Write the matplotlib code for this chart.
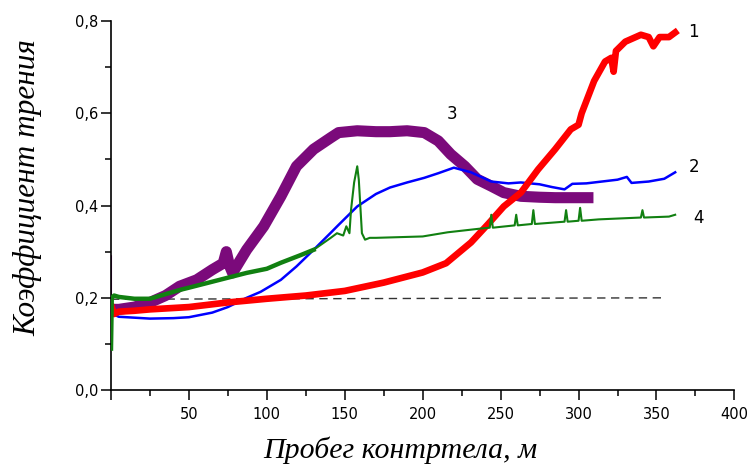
import matplotlib
matplotlib.use("Agg")
import matplotlib.pyplot as plt
from matplotlib.ticker import MultipleLocator, FuncFormatter

# Curve 1 (red)
x1 = [0, 0.5, 2, 5, 15, 25, 40, 50, 75, 100, 125, 150, 175, 200, 215, 231, 242, 252, 263, 274,
      285, 295, 300, 302, 306, 310, 317, 321, 322.5, 324, 330, 340, 345, 348, 352, 358, 362]
y1 = [0.14, 0.18, 0.165, 0.17, 0.172, 0.175, 0.178, 0.18, 0.19, 0.198, 0.205, 0.215, 0.233, 0.255,
      0.275, 0.32, 0.36, 0.398, 0.428, 0.478, 0.522, 0.565, 0.575, 0.60, 0.635, 0.67, 0.712, 0.72,
      0.69, 0.735, 0.755, 0.77, 0.765, 0.745, 0.765, 0.765, 0.775]

# Curve 2 (blue)
x2 = [0, 1, 5, 15, 25, 40, 50, 65, 75, 87, 96, 109, 119, 130, 141, 146, 158, 170, 179, 190, 201,
      210, 220, 231, 244, 255, 263, 275, 283, 291, 296, 305, 315, 325, 331, 334, 345, 355, 362]
y2 = [0.15, 0.165, 0.159, 0.157, 0.155, 0.156, 0.158, 0.168, 0.18, 0.2, 0.213, 0.239, 0.268,
      0.304, 0.341, 0.358, 0.398, 0.425, 0.439, 0.45, 0.46, 0.47, 0.482, 0.472, 0.452, 0.448,
      0.45, 0.446, 0.44, 0.435, 0.447, 0.448, 0.452, 0.456, 0.462, 0.449, 0.452, 0.458, 0.472]

# Curve 3 (purple)
x3 = [0, 0, 1, 5, 15, 25, 35, 44, 55, 65, 72, 74, 76, 78, 87, 98, 109, 119, 130, 141, 146,
      158, 170, 179, 190, 201, 210, 218, 227, 235, 244, 252, 263, 275, 285, 295, 306]
y3 = [0.29, 0.17, 0.175, 0.175, 0.18, 0.19, 0.205, 0.225, 0.239, 0.261, 0.275, 0.30, 0.27,
      0.254, 0.304, 0.355, 0.42, 0.485, 0.522, 0.547, 0.558, 0.562, 0.56, 0.56, 0.562, 0.558,
      0.54, 0.511, 0.485, 0.457, 0.442, 0.428, 0.42, 0.418, 0.417, 0.417, 0.417]

# Curve 4 (green)
x4 = [0, 0.5, 2, 5, 15, 25, 44, 50, 87, 100, 109, 122, 130, 141, 145, 149, 151, 153, 154, 156,
      158, 159, 161, 163, 166, 170, 200, 216, 237, 243, 244, 245, 259, 260, 261, 270, 271, 272,
      291, 292, 293, 300, 301, 302, 313, 340, 341, 342, 358, 362]
y4 = [0.09, 0.2, 0.205, 0.202, 0.198, 0.198, 0.217, 0.222, 0.254, 0.263, 0.276, 0.293, 0.304,
      0.33, 0.34, 0.335, 0.355, 0.34, 0.39, 0.45, 0.485, 0.456, 0.34, 0.326, 0.33, 0.33, 0.333,
      0.342, 0.35, 0.352, 0.38, 0.352, 0.357, 0.38, 0.357, 0.36, 0.39, 0.36, 0.365, 0.39, 0.365,
      0.367, 0.395, 0.367, 0.37, 0.374, 0.39, 0.374, 0.376, 0.38]

ref_x = [0, 355]
ref_y = [0.197, 0.2]

labels = ["1", "2", "3", "4"]
label_x = [374, 374, 219, 377]
label_y = [0.776, 0.483, 0.598, 0.374]

fig = plt.figure(figsize=(7.52, 4.65), dpi=100)
ax = fig.add_axes([0.1476, 0.161, 0.829, 0.794])

ax.plot(ref_x, ref_y, color="#333333", lw=1.0, ls=(0, (6, 4)), zorder=1)
ax.plot(x3[:3], y3[:3], color="#7b0a7b", lw=1.5, zorder=2)
ax.plot(x3[2:], y3[2:], color="#7b0a7b", lw=8, solid_joinstyle="round", zorder=2)
ax.plot(x2, y2, color="#0000ff", lw=1.8, zorder=3)
ax.plot(x1[:2], y1[:2], color="#ff0000", lw=2, zorder=4)
ax.plot(x1[1:], y1[1:], color="#ff0000", lw=4.8, zorder=4)
split = 13
ax.plot(x4[:split], y4[:split], color="#118011", lw=3.2, zorder=5)
ax.plot(x4[split - 1:], y4[split - 1:], color="#118011", lw=1.5, zorder=5)

for t, lx, ly in zip(labels, label_x, label_y):
    ax.text(lx, ly, t, fontsize=12, family="DejaVu Sans", ha="center", va="center")

ax.set_xlim(0, 400)
ax.set_ylim(0, 0.8)
ax.xaxis.set_major_locator(MultipleLocator(50))
ax.xaxis.set_minor_locator(MultipleLocator(25))
ax.yaxis.set_major_locator(MultipleLocator(0.2))
ax.yaxis.set_minor_locator(MultipleLocator(0.1))
ax.xaxis.set_major_formatter(FuncFormatter(lambda v, p: "" if v == 0 else f"{v:.0f}"))
ax.yaxis.set_major_formatter(FuncFormatter(lambda v, p: f"{v:.1f}".replace(".", ",")))

for s in ["top", "right"]:
    ax.spines[s].set_visible(False)
for s in ["left", "bottom"]:
    ax.spines[s].set_linewidth(1.2)

ax.tick_params(which="major", direction="out", length=7, width=1.1, labelsize=10.5)
ax.tick_params(axis="x", which="major", pad=5)
ax.tick_params(axis="y", which="major", pad=2)
ax.tick_params(which="minor", direction="out", length=4, width=1.1)
for lab in ax.get_xticklabels() + ax.get_yticklabels():
    lab.set_family("DejaVu Sans")

fig.text(400 / 752, 1 - 450 / 465, "Пробег контртела, м", fontsize=21.5,
         family="Liberation Serif", style="italic", ha="center", va="center")
fig.text(28 / 752, 1 - 188 / 465, "Коэффициент трения", fontsize=22.5,
         family="Liberation Serif", style="italic", ha="center", va="center", rotation=90)

fig.savefig("out.png", dpi=100)
